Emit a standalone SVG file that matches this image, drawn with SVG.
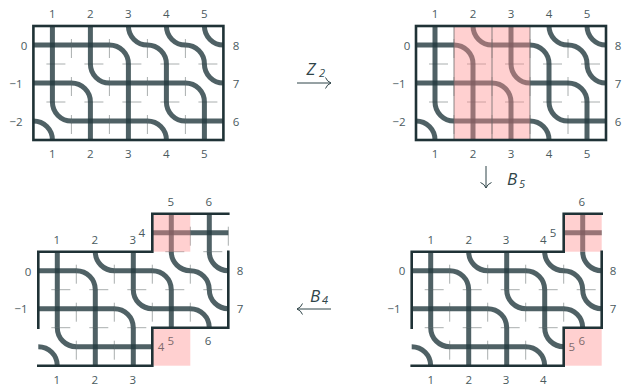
<svg xmlns="http://www.w3.org/2000/svg" xmlns:xlink="http://www.w3.org/1999/xlink" width="624" height="384" viewBox="0 0 624 384">
<style>
text{font-family:"Open Sans","Noto Sans",sans-serif;font-size:11.5px;fill:#4a5a5e;text-anchor:middle;dominant-baseline:central}
.m{font-size:17px;font-style:italic;fill:#2f4448}
.s{font-size:11px;font-style:italic;fill:#2f4448}
.g{stroke:#a9aeae;stroke-width:1;fill:none}
.st{fill:none;stroke:#233a3e;stroke-width:5;stroke-opacity:.8}
.fr{fill:none;stroke:#1f3236;stroke-width:2.6;stroke-linecap:square}
.p{fill:#ff8f8f;fill-opacity:.42;stroke:none}
.ar{fill:none;stroke:#2f4448;stroke-width:1}
.pl{fill:#7f6a6c}
</style>
<defs>
<g id="X"><path class="st" d="M19 0V38"/><path class="st" d="M0 19H38"/></g>
<g id="L"><path class="st" d="M0 19A19 19 0 0 1 19 38"/><path class="st" d="M19 0A19 19 0 0 0 38 19"/></g>
<path id="gx" class="g" d="M-9.5 0H9.5M0 -9.5V9.5"/>
</defs>
<g id="panel-a">
<g transform="translate(33.4,26)">
<g id="a-grid"><path class="g" d="M-3 38H193M-3 76H193M38 -3V117M76 -3V117M114 -3V117M152 -3V117" stroke-dasharray="19 19" stroke-dashoffset="-16"/></g>
<g id="a-connectors">
<use xlink:href="#X"/><use xlink:href="#X" x="38"/><use xlink:href="#L" x="76"/><use xlink:href="#L" x="114"/><use xlink:href="#L" x="152"/>
<use xlink:href="#X" y="38"/><use xlink:href="#L" x="38" y="38"/><use xlink:href="#X" x="76" y="38"/><use xlink:href="#X" x="114" y="38"/><use xlink:href="#L" x="152" y="38"/>
<use xlink:href="#L" y="76"/><use xlink:href="#X" x="38" y="76"/><use xlink:href="#X" x="76" y="76"/><use xlink:href="#L" x="114" y="76"/><use xlink:href="#X" x="152" y="76"/>
</g>
<rect class="fr" width="190" height="114"/>
</g>
<text x="52.4" y="13">1</text><text x="90.4" y="13">2</text><text x="128.4" y="13">3</text><text x="166.4" y="13">4</text><text x="204.4" y="13">5</text>
<text x="52.4" y="153">1</text><text x="90.4" y="153">2</text><text x="128.4" y="153">3</text><text x="166.4" y="153">4</text><text x="204.4" y="153">5</text>
<text x="24" y="45">0</text><text x="16" y="83">−1</text><text x="16" y="121">−2</text>
<text x="236" y="45">8</text><text x="236" y="83">7</text><text x="236" y="121">6</text>
</g>
<g id="panel-b">
<g transform="translate(416,26)">
<path class="g" d="M-3 38H193M-3 76H193M38 -3V117M76 -3V117M114 -3V117M152 -3V117" stroke-dasharray="19 19" stroke-dashoffset="-16"/>
<g id="b-connectors">
<use xlink:href="#X"/><use xlink:href="#L" x="38"/><use xlink:href="#X" x="76"/><use xlink:href="#L" x="114"/><use xlink:href="#L" x="152"/>
<use xlink:href="#X" y="38"/><use xlink:href="#X" x="38" y="38"/><use xlink:href="#L" x="76" y="38"/><use xlink:href="#X" x="114" y="38"/><use xlink:href="#L" x="152" y="38"/>
<use xlink:href="#L" y="76"/><use xlink:href="#X" x="38" y="76"/><use xlink:href="#X" x="76" y="76"/><use xlink:href="#L" x="114" y="76"/><use xlink:href="#X" x="152" y="76"/>
</g>
<rect class="p" x="38" width="76" height="114"/>
<path d="M38 0V114M76 0V114M114 0V114" stroke="#6d6a6a" stroke-width=".8" fill="none"/>
<rect class="fr" width="190" height="114"/>
</g>
<text x="435" y="13">1</text><text x="473" y="13">2</text><text x="511" y="13">3</text><text x="549" y="13">4</text><text x="587" y="13">5</text>
<text x="435" y="153">1</text><text x="473" y="153">2</text><text x="511" y="153">3</text><text x="549" y="153">4</text><text x="587" y="153">5</text>
<text x="407" y="45">0</text><text x="399" y="83">−1</text><text x="399" y="121">−2</text>
<text x="618" y="45">8</text><text x="618" y="83">7</text><text x="618" y="121">6</text>
</g>
<g id="panel-c">
<g transform="translate(38.3,251.7)">
<path class="g" d="M-3 0H193M-3 38H193M-3 76H193M38 -3V117M76 -3V117M114 -3V117M152 -41V79M190 -41V79" stroke-dasharray="19 19" stroke-dashoffset="-16"/>
<g id="c-connectors">
<use xlink:href="#X" x="114" y="-38"/><use xlink:href="#X" x="152" y="-38"/>
<use xlink:href="#X"/><use xlink:href="#L" x="38"/><use xlink:href="#X" x="76"/><use xlink:href="#L" x="114"/><use xlink:href="#L" x="152"/>
<use xlink:href="#X" y="38"/><use xlink:href="#X" x="38" y="38"/><use xlink:href="#L" x="76" y="38"/><use xlink:href="#X" x="114" y="38"/><use xlink:href="#L" x="152" y="38"/>
<use xlink:href="#L" y="76"/><use xlink:href="#X" x="38" y="76"/><use xlink:href="#X" x="76" y="76"/>
</g>
<rect class="p" x="114" y="-38" width="38" height="38"/>
<rect class="p" x="114" y="76" width="38" height="38"/>
<path class="fr" d="M0 76V0H114V-38H190M190 0V76H114V114H0"/>
</g>
<text x="56.7" y="239">1</text><text x="94.7" y="239">2</text><text x="132.7" y="239">3</text><text x="141.7" y="232.7">4</text>
<text x="170.7" y="201">5</text><text x="208.7" y="201">6</text>
<text x="28" y="271">0</text><text x="21" y="308.7">−1</text>
<text x="240" y="270.7">8</text><text x="240" y="308.7">7</text>
<text class="pl" x="161" y="346.7">4</text><text class="pl" x="170.7" y="340.7">5</text><text x="208" y="340.7">6</text>
<text x="56.7" y="379">1</text><text x="94.7" y="379">2</text><text x="132.7" y="379">3</text>
</g>
<g id="panel-d">
<g transform="translate(411.7,251.7)">
<path class="g" d="M-3 38H193M-3 76H193M38 -3V117M76 -3V117M114 -3V117M152 -3V79" stroke-dasharray="19 19" stroke-dashoffset="-16"/>
<g id="d-connectors">
<use xlink:href="#X" x="152" y="-38"/>
<use xlink:href="#X"/><use xlink:href="#L" x="38"/><use xlink:href="#X" x="76"/><use xlink:href="#L" x="114"/><use xlink:href="#L" x="152"/>
<use xlink:href="#X" y="38"/><use xlink:href="#X" x="38" y="38"/><use xlink:href="#L" x="76" y="38"/><use xlink:href="#X" x="114" y="38"/><use xlink:href="#L" x="152" y="38"/>
<use xlink:href="#L" y="76"/><use xlink:href="#X" x="38" y="76"/><use xlink:href="#X" x="76" y="76"/><use xlink:href="#L" x="114" y="76"/>
</g>
<rect class="p" x="152" y="-38" width="38" height="38"/>
<rect class="p" x="152" y="76" width="38" height="38"/>
<path class="fr" d="M0 76V0H152V-38H190M190 0V76H152V114H0"/>
</g>
<text x="430.7" y="239">1</text><text x="468.7" y="239">2</text><text x="506" y="239">3</text><text x="543.3" y="239">4</text><text x="553" y="232.7">5</text>
<text x="581.7" y="201">6</text>
<text x="402" y="270.7">0</text><text x="394" y="308.7">−1</text>
<text x="613" y="270.7">8</text><text x="613" y="308.7">7</text>
<text class="pl" x="571.7" y="346.7">5</text><text class="pl" x="581.7" y="340.7">6</text>
<text x="430.7" y="379">1</text><text x="468.7" y="379">2</text><text x="506" y="379">3</text><text x="543.3" y="379">4</text>
</g>
<g id="connectors">
<path class="ar" d="M297 83H331M325.500 77.500Q327 81.500 331 83Q327 84.500 325.500 88.500"/>
<path class="ar" d="M331 309H297M302.500 303.500Q301 307.500 297 309Q301 310.500 302.500 314.500"/>
<path class="ar" d="M486 166V188M480.500 182.500Q484.500 184 486 188Q487.500 184 491.500 182.500"/>
</g>
<g id="labels">
<text class="m" x="311" y="68">Z</text><text class="s" x="322" y="72.500">2</text>
<text class="m" x="512" y="178">B</text><text class="s" x="522" y="183">5</text>
<text class="m" x="315" y="295">B</text><text class="s" x="325" y="299">4</text>
</g>
</svg>
